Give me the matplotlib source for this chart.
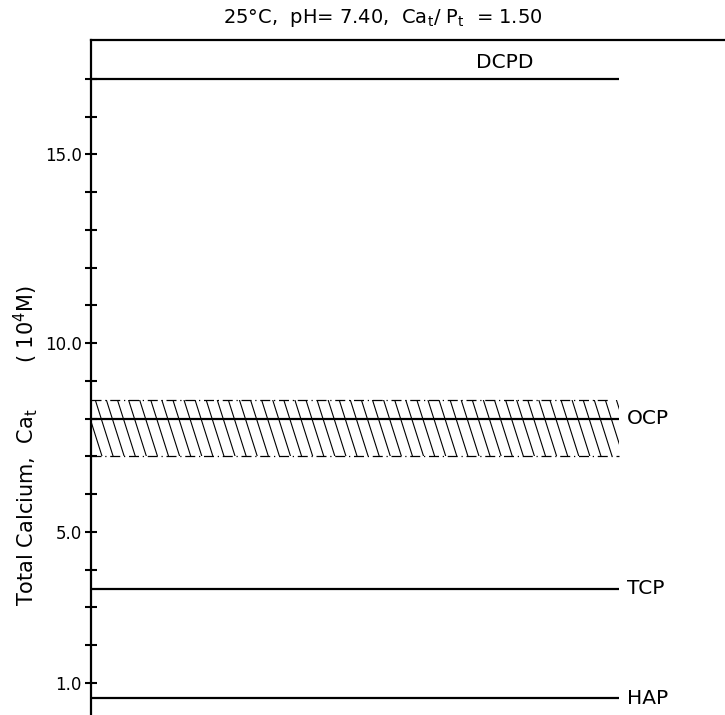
import numpy as np
import matplotlib
matplotlib.use("Agg")
import matplotlib.pyplot as plt
from matplotlib.collections import LineCollection

plt.rcParams["font.family"] = "DejaVu Sans"
plt.rcParams["mathtext.fontset"] = "dejavusans"

# solubility levels (total calcium, 10^4 M)
PHASES = ["DCPD", "OCP", "TCP", "HAP"]
CA_TOTAL = [17.0, 8.0, 3.5, 0.6]
OCP_BAND = [7.0, 8.5]

MAJOR_TICKS = [1, 5, 10, 15]
MAJOR_LABELS = ["1.0", "5.0", "10.0", "15.0"]
MINOR_TICKS = [2, 3, 4, 6, 7, 8, 9, 11, 12, 13, 14, 16, 17]

TITLE = r"25°C,  pH= 7.40,  Ca$_\mathrm{t}$/ P$_\mathrm{t}$  = 1.50"
YLABEL = r"Total Calcium,  Ca$_\mathrm{t}$       ( 10$^4$M)"


def main():
    fig = plt.figure(figsize=(7.25, 7.15), dpi=100)
    ax = fig.add_axes([91 / 725, 0.0, 634 / 725, 675 / 715])
    ax.set_xlim(0, 634 / 528)
    ax.set_ylim(0.15, 18.03)

    for s in ["right", "bottom"]:
        ax.spines[s].set_visible(False)
    for s in ["left", "top"]:
        ax.spines[s].set_linewidth(1.6)

    ax.set_xticks([])
    ax.set_yticks(MAJOR_TICKS)
    ax.set_yticklabels(MAJOR_LABELS)
    ax.set_yticks(MINOR_TICKS, minor=True)
    ax.tick_params(axis="y", which="both", direction="inout", length=9, width=1.5,
                   labelsize=12, pad=2)

    draw_band(ax)

    for name, ca in zip(PHASES, CA_TOTAL):
        ax.plot([0, 1], [ca, ca], color="black", lw=1.6, solid_capstyle="butt")
        if name == "DCPD":
            ax.annotate(name, (0.784, ca), xytext=(0, 5), textcoords="offset points",
                        ha="center", va="bottom", fontsize=14.5)
        else:
            ax.annotate(name, (1.0, ca), xytext=(6, 0), textcoords="offset points",
                        ha="left", va="center", fontsize=14.5)

    fig.text(383 / 725, 1 - 18 / 715, TITLE, ha="center", va="center", fontsize=14)
    fig.text(26 / 725, 1 - 445 / 715, YLABEL, ha="center", va="center",
             rotation=90, fontsize=15)

    fig.savefig("out.png", dpi=100)


def draw_band(ax):
    lo, hi = OCP_BAND
    edge = dict(color="black", lw=0.9, linestyle=(0, (8, 3, 1, 3)))
    ax.plot([0, 0.985], [hi, hi], **edge)
    ax.plot([0, 1.0], [lo, lo], **edge)

    # steep hatch lines clipped to the band
    patch = ax.fill_between([0, 1.0], lo, hi, facecolor="none", edgecolor="none")
    shift = 0.034
    starts = np.arange(-shift, 1.0, 0.021)
    segs = [[(x, hi), (x + shift, lo)] for x in starts]
    lc = LineCollection(segs, colors="black", linewidths=0.8)
    ax.add_collection(lc)
    path = patch.get_paths()[0]
    lc.set_clip_path(path, ax.transData)


if __name__ == "__main__":
    main()
